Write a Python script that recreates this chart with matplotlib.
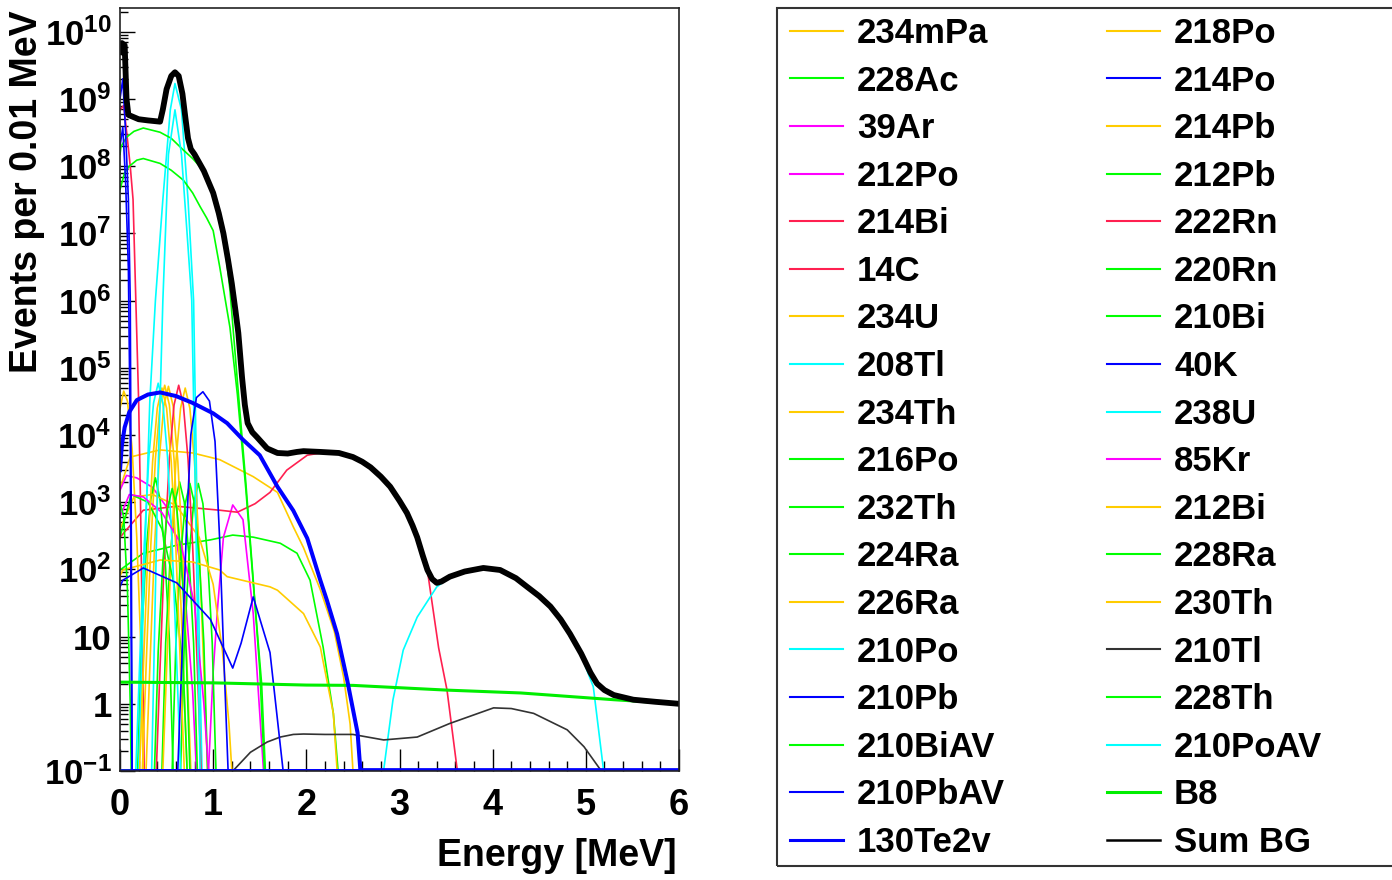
import numpy as np
import matplotlib
matplotlib.use("Agg")
import matplotlib.pyplot as plt
from matplotlib.lines import Line2D
from matplotlib.patches import Rectangle
from matplotlib.ticker import FixedLocator, FixedFormatter, NullFormatter

plt.rcParams['font.family'] = ['Liberation Sans', 'DejaVu Sans']
plt.rcParams['font.weight'] = 'bold'
plt.rcParams['mathtext.fontset'] = 'custom'
plt.rcParams['mathtext.rm'] = 'Liberation Sans:bold'
plt.rcParams['mathtext.bf'] = 'Liberation Sans:bold'
plt.rcParams['mathtext.it'] = 'Liberation Sans:bold'
plt.rcParams['mathtext.default'] = 'bf'

# ---------------- spectra: (energy [MeV], events per 0.01 MeV) ----------------
sum_bg = [(0.0, 5.0e9), (0.02, 6.8e9), (0.05, 6.3e9), (0.07, 1.0e9), (0.09, 5.8e8),
          (0.2, 5.0e8), (0.3, 4.8e8), (0.43, 4.6e8), (0.46, 7.0e8), (0.50, 1.4e9),
          (0.55, 2.2e9), (0.59, 2.5e9), (0.63, 2.2e9), (0.67, 1.2e9), (0.70, 5.5e8),
          (0.73, 2.6e8), (0.76, 1.8e8), (0.80, 1.5e8), (0.9, 8.5e7), (1.0, 4.0e7),
          (1.06, 2.0e7), (1.11, 1.0e7), (1.16, 4.0e6), (1.2, 1.8e6), (1.24, 7.0e5),
          (1.27, 3.3e5), (1.31, 7.2e4), (1.34, 2.8e4), (1.37, 1.5e4), (1.42, 1.1e4),
          (1.47, 9.3e3), (1.58, 6.3e3), (1.69, 5.4e3), (1.8, 5.3e3), (1.9, 5.6e3),
          (1.97, 5.75e3), (2.15, 5.6e3), (2.35, 5.4e3), (2.5, 4.7e3), (2.6, 4.0e3),
          (2.69, 3.3e3), (2.8, 2.4e3), (2.9, 1.7e3), (3.0, 1.05e3), (3.08, 690),
          (3.14, 450), (3.19, 300), (3.25, 160), (3.30, 98), (3.35, 72), (3.40, 63),
          (3.45, 66), (3.54, 78), (3.7, 93), (3.9, 105), (4.08, 98), (4.25, 74),
          (4.37, 55), (4.5, 40), (4.62, 28), (4.73, 18), (4.83, 11), (4.95, 5.6),
          (5.05, 2.9), (5.12, 2.0), (5.2, 1.6), (5.3, 1.35), (5.51, 1.15), (5.75, 1.07),
          (6.0, 1.0)]
bi210 = [(0.0, 1.5e8), (0.01, 1.95e8), (0.07, 2.7e8), (0.15, 3.3e8), (0.25, 3.7e8),
         (0.43, 3.2e8), (0.55, 2.6e8), (0.68, 1.74e8), (0.78, 1.3e8), (0.86, 9.8e7),
         (0.93, 7.0e7), (1.0, 4.0e7), (1.05, 2.2e7), (1.11, 1.0e7), (1.18, 1.45e6),
         (1.26, 6.3e4), (1.35, 2.0e3), (1.43, 70), (1.50, 3.2), (1.55, 0)]
bi210_av = [(0.0, 4.5e7), (0.05, 8.0e7), (0.1, 1.0e8), (0.18, 1.23e8), (0.25, 1.3e8),
            (0.43, 1.1e8), (0.55, 8.7e7), (0.68, 6.2e7), (0.78, 4.0e7), (0.86, 2.5e7),
            (0.93, 1.7e7), (1.0, 1.1e7), (1.07, 3.2e6), (1.18, 4.0e5), (1.26, 4.0e4),
            (1.35, 1.6e3), (1.43, 63), (1.52, 2.0), (1.56, 0)]
po210 = [(0.20, 0), (0.25, 32), (0.32, 3.2e4), (0.38, 1.0e6), (0.46, 3.2e7), (0.54, 6.9e8),
         (0.59, 1.7e9), (0.66, 6.9e8), (0.73, 3.2e7), (0.79, 1.0e6), (0.82, 3.2e3),
         (0.85, 10), (0.88, 0)]
po210_av = [(0.34, 0), (0.40, 1.0e3), (0.46, 1.0e6), (0.52, 1.5e8), (0.59, 6.9e8),
            (0.66, 1.5e8), (0.72, 1.0e7), (0.77, 1.0e6), (0.81, 1.0e3), (0.86, 0)]
c14 = [(0.0, 6.9e8), (0.04, 8.0e8), (0.08, 2.5e8), (0.11, 1.0e8), (0.14, 3.2e7),
       (0.17, 1.0e6), (0.20, 3.2e4), (0.22, 1.0e3), (0.24, 10), (0.26, 0)]
pb210 = [(0.0, 1.0e9), (0.03, 2.0e9), (0.06, 3.2e8), (0.09, 3.2e7), (0.11, 1.0e6),
         (0.12, 1.0e3), (0.13, 0)]
pb210_av = [(0.0, 2.0e8), (0.03, 3.8e8), (0.06, 6.0e7), (0.09, 3.0e6), (0.11, 1.0e4),
            (0.12, 10), (0.13, 0)]
te130_2v = [(0.0, 3.0e3), (0.02, 7.0e3), (0.05, 1.3e4), (0.1, 2.2e4), (0.18, 3.3e4),
            (0.3, 4.0e4), (0.43, 4.3e4), (0.6, 3.8e4), (0.78, 3.0e4), (1.0, 2.1e4),
            (1.15, 1.5e4), (1.32, 8.5e3), (1.50, 5.0e3), (1.69, 1.7e3), (1.86, 750),
            (2.01, 290), (2.15, 69), (2.22, 35), (2.33, 11), (2.44, 2.2), (2.55, 0.37),
            (2.58, 0)]
bi214 = [(0.0, 300), (0.25, 760), (0.61, 870), (1.07, 760), (1.26, 710), (1.45, 950),
         (1.61, 1.4e3), (1.79, 3.0e3), (2.01, 5.0e3), (2.15, 5.4e3), (2.35, 5.2e3),
         (2.5, 4.6e3), (2.69, 3.2e3), (2.9, 1.65e3), (3.08, 660), (3.19, 290),
         (3.30, 95), (3.42, 6.8), (3.51, 1.6), (3.62, 0)]
tl208 = [(2.83, 0), (2.93, 1.15), (3.04, 6.3), (3.19, 19.5), (3.40, 55), (3.54, 76),
         (3.7, 92), (3.90, 104), (4.08, 97), (4.25, 73), (4.37, 54), (4.5, 39),
         (4.62, 27), (4.73, 17), (4.83, 10.5), (4.94, 5.7), (5.08, 1.8), (5.19, 0)]
b8 = [(0.0, 2.1), (1.0, 2.05), (2.0, 1.9), (2.5, 1.88), (3.5, 1.6), (4.3, 1.45),
      (5.3, 1.15), (6.0, 1.0)]
tl210 = [(1.22, 0), (1.40, 0.19), (1.58, 0.27), (1.72, 0.32), (1.86, 0.35), (1.97, 0.355),
         (2.2, 0.35), (2.50, 0.35), (2.83, 0.29), (3.19, 0.32), (3.54, 0.51), (4.01, 0.87),
         (4.2, 0.85), (4.44, 0.72), (4.80, 0.41), (4.98, 0.23), (5.16, 0)]
k40 = [(0.0, 55), (0.03, 69), (0.25, 105), (0.61, 63), (0.97, 18), (1.21, 3.4), (1.30, 8),
       (1.43, 39), (1.52, 15), (1.61, 5.8), (1.75, 0)]
pa234m = [(0.0, 1.6e3), (0.11, 4.7e3), (0.43, 6.0e3), (0.78, 5.4e3), (1.07, 4.3e3),
          (1.43, 2.4e3), (1.69, 1.4e3), (1.86, 430), (1.97, 210), (2.15, 50), (2.30, 12),
          (2.40, 2.5), (2.47, 0.5), (2.50, 0)]
bi212 = [(0.0, 80), (0.03, 98), (0.43, 138), (0.78, 129), (1.07, 98), (1.15, 78),
         (1.43, 63), (1.61, 55), (1.69, 49), (1.97, 22), (2.15, 7), (2.29, 0.72), (2.33, 0)]
ac228 = [(0.0, 98), (0.25, 174), (0.61, 229), (0.97, 275), (1.21, 324), (1.43, 302),
         (1.72, 245), (1.90, 174), (2.04, 69), (2.18, 7), (2.29, 0.72), (2.34, 0)]
ar39 = [(0.0, 1.5e3), (0.07, 2.5e3), (0.18, 2.3e3), (0.35, 1.66e3), (0.50, 850),
        (0.6, 300), (0.7, 40), (0.78, 1.5), (0.82, 0)]
kr85 = [(0.0, 600), (0.1, 1.3e3), (0.25, 1.2e3), (0.45, 700), (0.65, 250), (0.8, 30),
        (0.9, 1.0), (0.95, 0)]
po212 = [(0.95, 0), (1.0, 3), (1.05, 30), (1.11, 300), (1.21, 910), (1.32, 550),
         (1.43, 22), (1.50, 0.72), (1.54, 0)]
th234 = [(0.0, 2.5e4), (0.04, 4.5e4), (0.08, 3.2e4), (0.13, 6.3e3), (0.18, 300),
         (0.22, 10), (0.25, 0)]
pb214 = [(0.0, 400), (0.15, 1.2e3), (0.35, 1.3e3), (0.6, 900), (0.85, 300), (1.0, 60),
         (1.1, 6), (1.17, 0.5), (1.2, 0)]
pb212 = [(0.0, 300), (0.12, 1.3e3), (0.3, 1.0e3), (0.45, 400), (0.58, 60), (0.68, 3),
         (0.72, 0)]
ra228 = [(0.0, 1.0e3), (0.04, 600), (0.08, 50), (0.11, 1.0), (0.12, 0)]
# quenched alpha lines
u238 = [(0.17, 0), (0.21, 3.7), (0.26, 230), (0.31, 4.7e3), (0.36, 3.0e4), (0.41, 5.9e4),
        (0.46, 3.0e4), (0.51, 4.7e3), (0.56, 230), (0.61, 3.7), (0.65, 0)]
th230 = [(0.21, 0), (0.25, 3.2), (0.30, 200), (0.35, 4.0e3), (0.40, 2.5e4), (0.45, 5.0e4),
         (0.50, 2.5e4), (0.55, 4.0e3), (0.60, 200), (0.65, 3.2), (0.69, 0)]
u234 = [(0.24, 0), (0.28, 3.5), (0.33, 220), (0.38, 4.4e3), (0.43, 2.8e4), (0.48, 5.5e4),
        (0.53, 2.8e4), (0.58, 4.4e3), (0.63, 220), (0.68, 3.5), (0.72, 0)]
ra226 = [(0.28, 0), (0.32, 3.4), (0.37, 210), (0.42, 4.2e3), (0.47, 2.7e4), (0.52, 5.3e4),
         (0.57, 2.7e4), (0.62, 4.2e3), (0.67, 210), (0.72, 3.4), (0.76, 0)]
rn222 = [(0.39, 0), (0.43, 3.5), (0.48, 220), (0.53, 4.4e3), (0.58, 2.8e4), (0.63, 5.5e4),
         (0.68, 2.8e4), (0.73, 4.4e3), (0.78, 220), (0.83, 3.5), (0.87, 0)]
po218 = [(0.46, 0), (0.50, 3.2), (0.55, 200), (0.60, 4.0e3), (0.65, 2.5e4), (0.70, 5.0e4),
         (0.75, 2.5e4), (0.80, 4.0e3), (0.85, 200), (0.90, 3.2), (0.94, 0)]
po214 = [(0.62, 0), (0.66, 3), (0.71, 300), (0.76, 1.0e4), (0.82, 3.6e4), (0.89, 4.4e4),
         (0.96, 3.2e4), (1.02, 8.0e3), (1.07, 275), (1.12, 3), (1.16, 0)]
th232 = [(0.19, 0), (0.23, 9), (0.28, 180), (0.33, 1.1e3), (0.38, 2.3e3), (0.43, 1.1e3),
         (0.48, 180), (0.53, 9), (0.57, 0)]
th228 = [(0.37, 0), (0.41, 6), (0.46, 130), (0.51, 800), (0.56, 1.6e3), (0.61, 800),
         (0.66, 130), (0.71, 6), (0.75, 0)]
ra224 = [(0.45, 0), (0.49, 8), (0.54, 160), (0.59, 1.0e3), (0.64, 2.0e3), (0.69, 1.0e3),
         (0.74, 160), (0.79, 8), (0.83, 0)]
rn220 = [(0.56, 0), (0.60, 8), (0.65, 150), (0.70, 950), (0.75, 1.9e3), (0.80, 950),
         (0.85, 150), (0.90, 8), (0.94, 0)]
po216 = [(0.65, 0), (0.69, 8), (0.74, 150), (0.79, 950), (0.84, 1.9e3), (0.89, 950),
         (0.94, 150), (0.99, 8), (1.03, 0)]

ORANGE, GREEN, MAGENTA = '#ffcc00', '#00ff00', '#ff00ff'
RED, CYAN, BLUE, GREY = '#ff2050', '#00ffff', '#0000ff', '#333333'

# legend columns (label, points, colour, plot width, legend width)
col_left = [
    ("234mPa", pa234m, ORANGE, 1.2, 1.5), ("228Ac", ac228, GREEN, 1.2, 1.5),
    ("39Ar", ar39, MAGENTA, 1.2, 1.5), ("212Po", po212, MAGENTA, 1.2, 1.5),
    ("214Bi", bi214, RED, 1.2, 1.5), ("14C", c14, RED, 1.2, 1.5),
    ("234U", u234, ORANGE, 1.2, 1.5), ("208Tl", tl208, CYAN, 1.2, 1.5),
    ("234Th", th234, ORANGE, 1.2, 1.5), ("216Po", po216, GREEN, 1.2, 1.5),
    ("232Th", th232, GREEN, 1.2, 1.5), ("224Ra", ra224, GREEN, 1.2, 1.5),
    ("226Ra", ra226, ORANGE, 1.2, 1.5), ("210Po", po210, CYAN, 1.2, 1.5),
    ("210Pb", pb210, BLUE, 1.2, 1.5), ("210BiAV", bi210_av, GREEN, 1.2, 1.5),
    ("210PbAV", pb210_av, BLUE, 1.2, 1.5), ("130Te2v", te130_2v, BLUE, 2.9, 2.2),
]
col_right = [
    ("218Po", po218, ORANGE, 1.2, 1.5), ("214Po", po214, BLUE, 1.2, 1.5),
    ("214Pb", pb214, ORANGE, 1.2, 1.5), ("212Pb", pb212, GREEN, 1.2, 1.5),
    ("222Rn", rn222, RED, 1.2, 1.5), ("220Rn", rn220, GREEN, 1.2, 1.5),
    ("210Bi", bi210, GREEN, 1.2, 1.5), ("40K", k40, BLUE, 1.2, 1.5),
    ("238U", u238, CYAN, 1.2, 1.5), ("85Kr", kr85, MAGENTA, 1.2, 1.5),
    ("212Bi", bi212, ORANGE, 1.2, 1.5), ("228Ra", ra228, GREEN, 1.2, 1.5),
    ("230Th", th230, ORANGE, 1.2, 1.5), ("210Tl", tl210, GREY, 1.2, 1.5),
    ("228Th", th228, GREEN, 1.2, 1.5), ("210PoAV", po210_av, CYAN, 1.2, 1.5),
    ("B8", b8, '#00ee00', 2.2, 2.2), ("Sum BG", sum_bg, 'black', 4.2, 1.8),
]

XMIN, XMAX = 0.0, 6.0
YMIN, YMAX = 0.1, 2.26e10

fig = plt.figure(figsize=(13.92, 8.8), dpi=100)
ax = fig.add_axes([120 / 1392, 1 - 771 / 880, 559 / 1392, 763 / 880])

# drawing order: thin curves first, blue ones late, thick ones on top
late = ["210Tl", "40K", "214Po", "210PbAV", "210Pb", "B8", "130Te2v", "Sum BG"]
entries = col_left + col_right
order = [e for e in entries if e[0] not in late] + \
        [e for name in late for e in entries if e[0] == name]


def padded(points):
    e = [p[0] for p in points]
    n = [p[1] for p in points]
    if e[0] > XMIN:
        e.insert(0, XMIN)
        n.insert(0, 0.0)
    if e[-1] < XMAX:
        e.append(XMAX)
        n.append(0.0)
    # empty bins sit on the lower edge of the log axis
    return np.array(e), np.maximum(np.array(n, dtype=float), YMIN * 1.03)


for label, pts, color, lw, _ in order:
    e, n = padded(pts)
    ax.plot(e, n, color=color, lw=lw, solid_joinstyle='round', zorder=3)

ax.set_yscale('log')
ax.set_xlim(XMIN, XMAX)
ax.set_ylim(YMIN, YMAX)

major_y = [10.0 ** k for k in range(-1, 11)]
major_lbl = [r'$10^{-1}$', '1', '10'] + [r'$10^{%d}$' % k for k in range(2, 11)]
ax.yaxis.set_major_locator(FixedLocator(major_y))
ax.yaxis.set_major_formatter(FixedFormatter(major_lbl))
minor_y = [m * 10.0 ** k for k in range(-1, 11) for m in range(2, 10)]
ax.yaxis.set_minor_locator(FixedLocator(minor_y))
ax.yaxis.set_minor_formatter(NullFormatter())

ax.xaxis.set_major_locator(FixedLocator(np.arange(0, 7, 1)))
ax.xaxis.set_major_formatter(FixedFormatter([str(i) for i in range(7)]))
ax.xaxis.set_minor_locator(FixedLocator(np.arange(0, 6.01, 0.2)))

ax.tick_params(axis='both', which='both', direction='in', top=False, right=False,
               width=1.0, color='black')
ax.tick_params(axis='y', which='major', length=11, pad=6, labelsize=25)
ax.tick_params(axis='y', which='minor', length=6)
ax.tick_params(axis='x', which='major', length=16, pad=12, labelsize=26)
ax.tick_params(axis='x', which='minor', length=7.5)
for s in ax.spines.values():
    s.set_linewidth(1.2)
    s.set_color('#222222')
    s.set_zorder(5)

fig.text(677 / 1392, 1 - 866 / 880, 'Energy [MeV]', fontsize=27, fontweight='bold',
         ha='right', va='baseline')
fig.text(27 / 1392, 1 - 10 / 880, 'Events per 0.01 MeV', fontsize=27, fontweight='bold',
         rotation=90, ha='center', va='top')

# legend box
fig.add_artist(Rectangle((777 / 1392, 1 - 866 / 880), 0.5, (866 - 8) / 880,
                         transform=fig.transFigure, fill=False, edgecolor='#333333',
                         lw=1.5, zorder=1))
handles = [Line2D([], [], color=c, lw=lwl) for _, _, c, _, lwl in col_left + col_right]
labels = [lab for lab, *_ in col_left + col_right]
fig.legend(handles, labels, ncol=2, loc='upper left',
           bbox_to_anchor=(790 / 1392, 1 - 17 / 880), frameon=False,
           prop={'size': 25, 'weight': 'bold'}, handlelength=1.53, handletextpad=0.40,
           labelspacing=0.42, columnspacing=2.94, borderpad=0.0, borderaxespad=0.0)

fig.savefig('out.png', dpi=100)
